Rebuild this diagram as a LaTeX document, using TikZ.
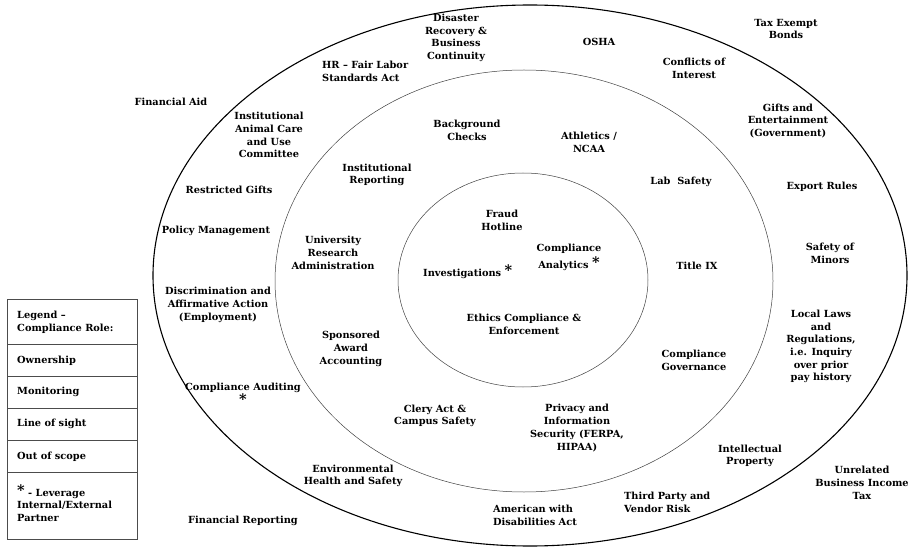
\documentclass[tikz,border=0pt]{standalone}
\usepackage{fontspec}
\setmainfont{DejaVu Serif}
\newcommand{\starmark}{\raisebox{1pt}{\fontsize{14.5}{14.5}\selectfont *}}
\begin{document}
\begin{tikzpicture}[x=1pt, y=-1pt,
  lbl/.style={align=center, inner sep=0pt, font=\bfseries\fontsize{9.8}{12.7}\selectfont},
  lbll/.style={lbl, align=left, anchor=west},
  ring/.style={black!75, line width=0.5pt}]

\useasboundingbox (0,0) rectangle (908,548);

\draw[line width=1.1pt] (530,275.5) ellipse [x radius=377pt, y radius=270.5pt];
\draw[ring] (524,281) ellipse [x radius=249pt, y radius=211pt];
\draw[ring] (523,280) ellipse [x radius=125pt, y radius=107pt];

\node[lbl] (fraud) at (502,220) {Fraud\\Hotline};
\node[lbl] (analytics) at (569,257) {Compliance\\[2pt]Analytics \starmark};
\node[lbll] (investig) at (423,272) {Investigations \starmark};
\node[lbl] (ethics) at (524,324) {Ethics Compliance \&\\Enforcement};

\node[lbl] (background) at (467,130) {Background\\Checks};
\node[lbl] (instrep) at (377,175) {Institutional\\Reporting};
\node[lbl] (athletics) at (589,142) {Athletics /\\NCAA};
\node[lbl] (labsafety) at (681,182) {Lab\ \ Safety};
\node[lbl] (titleix) at (697,266) {Title IX};
\node[lbl] (ura) at (333,253) {University\\Research\\Administration};
\node[lbl] (sponsored) at (351,349) {Sponsored\\Award\\Accounting};
\node[lbl] (clery) at (435,416) {Clery Act \&\\Campus Safety};
\node[lbl] (privacy) at (577,428) {Privacy and\\Information\\Security (FERPA,\\HIPAA)};
\node[lbl] (governance) at (694,360) {Compliance\\Governance};

\node[lbll] (hr) at (322,71) {HR -- Fair Labor\\Standards Act};
\node[lbl] (disaster) at (456,38) {Disaster\\Recovery \&\\Business\\Continuity};
\node[lbl] (osha) at (599,42) {OSHA};
\node[lbl] (conflicts) at (694,68) {Conflicts of\\Interest};
\node[lbl] (gifts) at (788,121) {Gifts and\\Entertainment\\(Government)};
\node[lbl] (export) at (822,187) {Export Rules};
\node[lbl] (minors) at (830,253) {Safety of\\Minors};
\node[lbl] (locallaws) at (821,346.5) {Local Laws\\and\\Regulations,\\i.e. Inquiry\\over prior\\pay history};
\node[lbl] (ip) at (750,456) {Intellectual\\Property};
\node[lbll] (vendor) at (624,502) {Third Party and\\Vendor Risk};
\node[lbll] (ada) at (493,515) {American with\\Disabilities Act};
\node[lbl] (ehs) at (353,476) {Environmental\\Health and Safety};
\node[lbl] (audit) at (243,394) {Compliance Auditing\\\starmark};
\node[lbl] (discrim) at (218,305) {Discrimination and\\Affirmative Action\\(Employment)};
\node[lbl] (policy) at (216,231) {Policy Management};
\node[lbl] (restricted) at (229,190) {Restricted Gifts};
\node[lbl] (iacuc) at (269,135) {Institutional\\Animal Care\\and Use\\Committee};

\node[lbl] (finaid) at (171,102) {Financial Aid};
\node[lbl] (taxbonds) at (786,29) {Tax Exempt\\Bonds};
\node[lbl] (ubit) at (862,483) {Unrelated\\Business Income\\Tax};
\node[lbl] (finrep) at (243,521) {Financial Reporting};

\draw[black!70, line width=0.9pt] (7,299) rectangle (137,539);
\foreach \y in {344,376,408,440.5,472}
  \draw[black!70, line width=0.9pt] (7,\y) -- (137,\y);

\node[lbll] (legend) at (17,322.5) {Legend --\\Compliance Role:};
\node[lbll] (own) at (17,361) {Ownership};
\node[lbll] (mon) at (17,392) {Monitoring};
\node[lbll] (los) at (17,424) {Line of sight};
\node[lbll] (oos) at (17,457) {Out of scope};
\node[lbll] (lev) at (17,503) {\starmark\ - Leverage\\Internal/External\\Partner};

\end{tikzpicture}
\end{document}
